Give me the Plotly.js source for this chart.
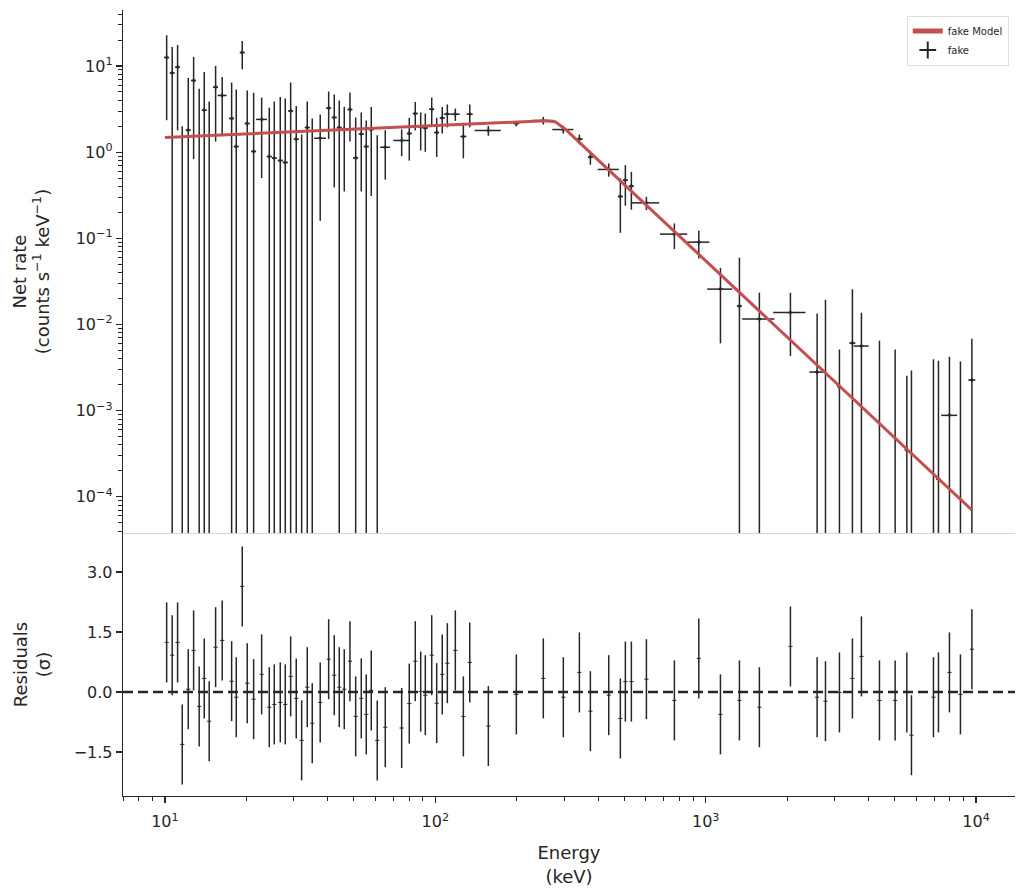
<!DOCTYPE html>
<html><head><meta charset="utf-8">
<script src="https://cdn.plot.ly/plotly-3.0.1.min.js"></script>
<style>html,body{margin:0;padding:0;background:#fff}#chart{width:1024px;height:894px}</style>
</head><body><div id="chart"></div>
<script>
// Bin centre energies (keV)
const energy = [10.15,10.64,11.14,11.59,12.20,12.77,13.39,13.98,14.58,15.40,
  16.29,17.65,18.36,19.32,20.16,21.29,22.79,24.32,25.38,26.71,
  27.87,29.18,30.60,32.04,33.61,35.07,37.53,40.33,42.30,44.14,
  46.06,48.35,50.76,53.24,55.55,57.96,61.00,65.31,75.10,80.13,
  84.33,88.31,91.84,97.00,101.2,106.1,110.8,118.6,127.0,134.1,
  157.1,199.4,250.9,297.5,341.1,374.6,438.0,483.5,504.6,531.1,
  603.6,766.0,943.0,1134,1333,1580,2058,2583,2774,3124,
  3489,3767,4392,5020,5546,5768,6957,7260,7972,8755,9650];
// Bin widths (keV)
const binWidth = [0.43,0.45,0.47,0.49,0.52,0.54,0.57,0.60,0.62,0.66,
  1.25,0.75,0.78,0.82,0.86,0.91,2.14,1.04,1.08,1.14,
  1.19,1.24,1.30,1.36,1.43,1.49,3.84,1.72,1.80,1.88,
  1.96,2.06,2.16,2.27,2.37,2.47,2.60,5.56,10.24,3.41,
  3.59,3.76,3.91,4.13,4.31,4.52,6.61,9.09,6.49,6.86,
  34.86,10.19,44.96,53.31,20.34,15.96,78.49,20.6,21.5,22.6,
  139.1,176.5,176.9,241.9,56.8,432,562.7,330.4,118,106,
  178,481.8,150,171,189,197,237,247,1086.6,298,575];
// Net rate (counts s^-1 keV^-1)
const rate = [12.55,8.32,9.68,-0.5,1.80,6.79,-0.8,3.07,-0.6,5.68,
  4.55,2.46,1.16,14.34,2.15,1.02,2.40,0.89,0.852,0.80,
  0.76,3.01,1.415,-0.5,1.93,-0.4,1.45,3.24,2.53,1.93,
  1.85,3.13,0.859,1.62,1.16,1.83,-0.3,1.14,1.367,1.648,
  2.81,1.966,1.91,3.15,1.69,2.50,2.76,2.76,1.52,2.76,
  1.785,2.15,2.33,1.83,1.415,0.875,0.63,0.306,0.473,0.403,
  0.258,0.1119,0.0903,0.02574,0.01635,0.01155,0.01381,0.002804,-0.0015,0.0019,
  0.00608,0.00562,-0.001,-0.0008,0.00035,-0.0005,-0.0006,0.00016,0.000882,-0.0004,0.002265];
// 1-sigma error on the rate
const rateErr = [10.2,8.34,7.89,2.5,5.48,5.96,6.23,5.47,4.47,4.35,
  2.92,3.98,4.18,5.2,3.05,3.86,1.9,2.38,3.02,3.58,
  3.44,3.43,2.03,2.1,1.94,2.86,1.29,1.82,2.14,2.05,
  1.50,1.80,1.67,1.27,1.17,1.52,1.875,0.66,0.47,0.85,
  1.02,0.92,0.90,1.16,0.81,0.85,0.82,0.45,0.67,0.82,
  0.235,0.16,0.24,0.19,0.185,0.16,0.11,0.19,0.234,0.188,
  0.045,0.037,0.032,0.0197,0.043,0.0118,0.0095,0.01065,0.02084,0.00324,
  0.0195,0.0081,0.00747,0.00594,0.00219,0.00343,0.00454,0.00363,0.00334,0.00413,0.00456];
// Residuals (sigma)
const residual = [1.24,0.92,1.24,-1.31,0.07,1.04,-0.36,0.34,-0.73,1.12,
  1.29,0.27,-0.13,2.64,0.22,-0.18,0.44,-0.38,-0.31,-0.26,
  -0.31,0.39,-0.16,-1.21,0.12,-0.78,-0.26,0.82,0.42,0.12,
  0.07,0.77,-0.61,-0.16,-0.56,0.04,-1.21,-0.88,-0.9,-0.29,
  0.77,0.01,-0.08,0.92,-0.28,0.44,0.72,1.04,-0.61,0.74,
  -0.85,-0.06,0.34,-0.13,0.49,-0.48,-0.08,-0.66,0.26,0.26,
  0.32,-0.21,0.84,-0.56,-0.21,-0.38,1.14,-0.13,-0.23,-0.01,
  0.34,0.89,-0.21,-0.21,-0.01,-1.08,-0.13,-0.01,0.49,-0.06,1.07];
// Model curve
const modelEnergy = [10, 31.58, 98.9, 205.8, 254.6, 277.3, 301.9, 406.8, 2235, 9650];
const modelRate = [1.481, 1.734, 2.025, 2.24, 2.31, 2.26, 1.86, 0.772, 0.00518, 7.03e-5];

// Tick labels
const decadeVals = [1e-4,1e-3,1e-2,1e-1,1,10];
const decadeText = ['10<sup>−4</sup>','10<sup>−3</sup>','10<sup>−2</sup>','10<sup>−1</sup>','10<sup>0</sup>','10<sup>1</sup>'];
const energyTickVals = [10,100,1000,10000];
const energyTickText = ['10<sup>1</sup>','10<sup>2</sup>','10<sup>3</sup>','10<sup>4</sup>'];

const n = energy.length;
if (![binWidth, rate, rateErr, residual].every(a => a.length === n)) throw new Error('length mismatch');

const DARK = '#262626';
const RED = '#c44e52';
const FLOOR = 1e-12;

const vx = [], vy = [], hx = [], hy = [], px = [], py = [];
for (let i = 0; i < n; i++) {
  const lo = rate[i] - rateErr[i], hi = rate[i] + rateErr[i];
  vx.push(energy[i], energy[i], null);
  vy.push(lo > 0 ? lo : FLOOR, hi, null);
  if (rate[i] > 0) {
    hx.push(energy[i] - binWidth[i] / 2, energy[i] + binWidth[i] / 2, null);
    hy.push(rate[i], rate[i], null);
    px.push(energy[i]); py.push(rate[i]);
  }
}
function minorTicks(lo, hi) {
  const out = [];
  for (let d = lo; d <= hi; d++) for (let k = 2; k <= 9; k++) out.push(k * Math.pow(10, d));
  return out;
}

const traces = [
  {x: vx, y: vy, mode: 'lines', line: {color: DARK, width: 1.5}, showlegend: false, hoverinfo: 'skip', xaxis: 'x', yaxis: 'y'},
  {x: hx, y: hy, mode: 'lines', line: {color: DARK, width: 1.5}, showlegend: false, hoverinfo: 'skip', xaxis: 'x', yaxis: 'y'},
  {x: px, y: py, mode: 'markers', name: 'fake', legendrank: 2,
   marker: {symbol: 'cross-thin', size: 3, color: DARK, line: {color: DARK, width: 1.5}}, xaxis: 'x', yaxis: 'y'},
  {x: modelEnergy, y: modelRate, mode: 'lines', name: 'fake Model', legendrank: 1,
   line: {color: RED, width: 3}, xaxis: 'x', yaxis: 'y'},
  {x: energy, y: residual, mode: 'markers', showlegend: false, xaxis: 'x2', yaxis: 'y2',
   marker: {symbol: 'line-ew', size: 3, color: DARK, line: {color: DARK, width: 1}},
   error_y: {type: 'constant', value: 1, width: 0, thickness: 1.5, color: DARK}}
];

const axisCommon = {ticks: 'outside', ticklen: 6, tickwidth: 1.25, tickcolor: DARK,
  showline: true, linecolor: DARK, linewidth: 1.25, showgrid: false, zeroline: false,
  tickfont: {size: 16, color: DARK}};

const layout = {
  width: 1024, height: 894,
  margin: {l: 123, r: 9, t: 10, b: 98},
  paper_bgcolor: '#ffffff', plot_bgcolor: '#ffffff',
  font: {family: 'DejaVu Sans', color: DARK, size: 16},
  showlegend: true,
  legend: {x: 0.993, y: 0.993, xanchor: 'right', yanchor: 'top', bgcolor: '#ffffff',
    bordercolor: '#dddddd', borderwidth: 1, font: {size: 10, color: DARK}, itemsizing: 'constant',
    itemwidth: 30, tracegroupgap: 0},
  xaxis: {type: 'log', range: [0.845, 4.144], anchor: 'y', matches: 'x2', showticklabels: false,
    ticks: '', showline: true, linecolor: '#d6d6d6', linewidth: 1, showgrid: false, zeroline: false},
  yaxis: Object.assign({}, axisCommon, {type: 'log', domain: [0.3346, 1], range: [-4.42, 1.65], anchor: 'x',
    tickmode: 'array', tickvals: decadeVals, ticktext: decadeText,
    minor: {tickmode: 'array', tickvals: minorTicks(-5, 1), ticks: 'outside', ticklen: 3.5, tickwidth: 1, tickcolor: DARK, showgrid: false},
    title: {text: 'Net rate<br>(counts s<sup>−1</sup> keV<sup>−1</sup>)', font: {size: 18, color: DARK}, standoff: 21}}),
  xaxis2: Object.assign({}, axisCommon, {type: 'log', range: [0.845, 4.144], anchor: 'y2',
    tickmode: 'array', tickvals: energyTickVals, ticktext: energyTickText, ticklabelstandoff: 5,
    minor: {tickmode: 'array', tickvals: minorTicks(0, 4), ticks: 'outside', ticklen: 3.5, tickwidth: 1, tickcolor: DARK, showgrid: false},
    title: {text: 'Energy<br>(keV)', font: {size: 18, color: DARK}, standoff: 16}}),
  yaxis2: Object.assign({}, axisCommon, {domain: [0, 0.3346], range: [-2.6, 3.975], anchor: 'x2',
    tickmode: 'linear', tick0: 0, dtick: 1.5, tickformat: '.1f',
    title: {text: 'Residuals<br>(σ)', font: {size: 18, color: DARK}, standoff: 18}}),
  shapes: [{type: 'line', xref: 'x2 domain', x0: 0, x1: 1, yref: 'y2', y0: 0, y1: 0,
    line: {color: DARK, width: 2.5, dash: '10px,5px'}}]
};

Plotly.newPlot('chart', traces, layout, {displayModeBar: false, staticPlot: true});
</script>
</body></html>
